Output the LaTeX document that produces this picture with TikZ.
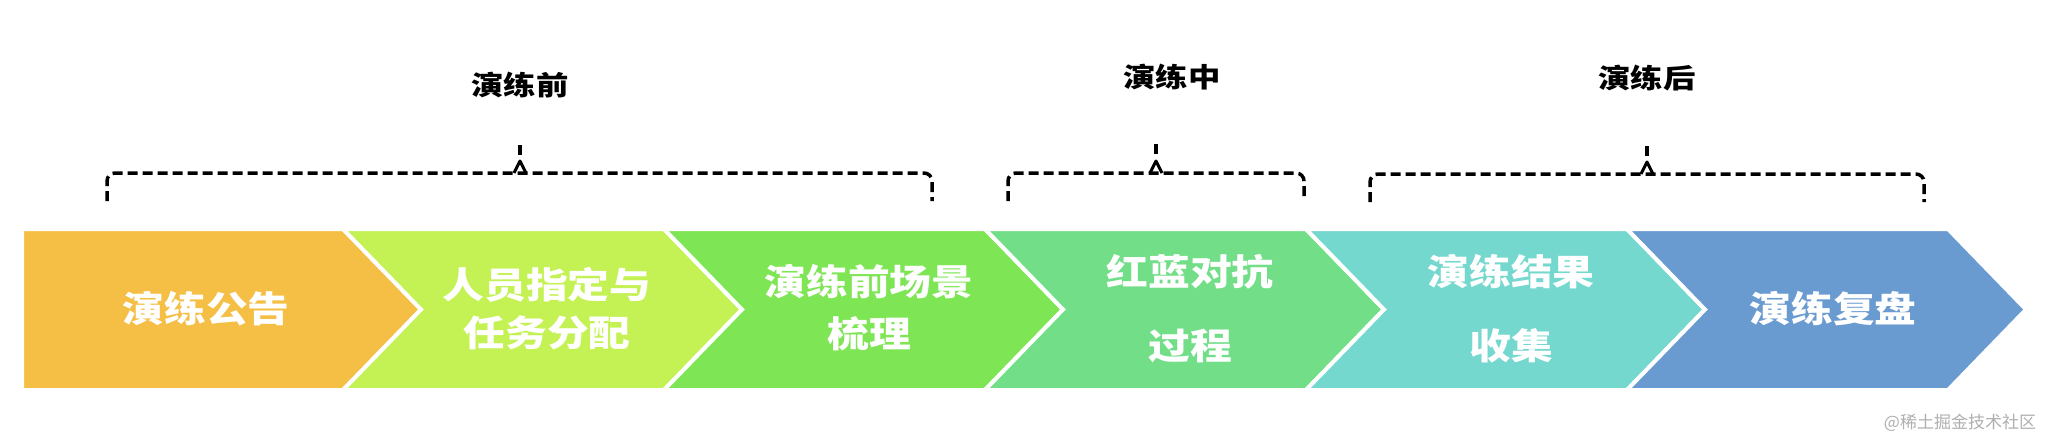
\documentclass[tikz,border=0pt]{standalone}
\usepackage{fontspec}
\newfontfamily\cjkwide[FakeStretch=1.16]{Noto Sans CJK SC}
\newfontfamily\cjklabel[FakeStretch=1.2]{Noto Sans CJK SC}
\newfontfamily\cjkplain{Noto Sans CJK SC}
\definecolor{cA}{RGB}{245,191,69}
\definecolor{cB}{RGB}{196,242,84}
\definecolor{cC}{RGB}{126,229,84}
\definecolor{cD}{RGB}{114,223,136}
\definecolor{cE}{RGB}{117,216,206}
\definecolor{cF}{RGB}{105,155,208}
\definecolor{wm}{RGB}{175,175,175}
\begin{document}
\begin{tikzpicture}[x=1pt,y=-1pt,
  chev/.style={draw=white,line width=4pt,line join=miter},
  chevtext/.style={text=white,align=center,inner sep=0pt,
    font=\fontsize{36}{48}\selectfont\cjkwide\bfseries},
  phaselabel/.style={text=black,inner sep=0pt,
    font=\fontsize{27}{32}\selectfont\cjklabel\bfseries},
  bracestyle/.style={draw=black,line width=3.5pt,dash pattern=on 10pt off 5pt,rounded corners=8pt},
  bracetip/.style={draw=black,line width=3pt,line join=round}]
\useasboundingbox (0,0) rectangle (2046,436);
\fill[white] (0,0) rectangle (2046,436);
% chevrons
\path[chev,fill=cA] (22,229) -- (343,229) -- (421,309.5) -- (343,390) -- (22,390) -- cycle;
\foreach \L/\c in {343/cB,664/cC,985/cD,1306/cE,1627/cF}{
  \path[chev,fill=\c] (\L,229) -- ({\L+321},229) -- ({\L+399},309.5) -- ({\L+321},390) -- (\L,390) -- ({\L+78},309.5) -- cycle;
}
% chevron texts
\node[chevtext] (t1) at (206,309) {演练公告};
\node[chevtext] (t2) at (547,309) {人员指定与\\任务分配};
\node[chevtext] (t3) at (869,308) {演练前场景\\[4pt]梳理};
\node[chevtext] (t4) at (1190,309) {红蓝对抗\\[26pt]过程};
\node[chevtext] (t5) at (1511,309) {演练结果\\[26pt]收集};
\node[chevtext] (t6) at (1833,309) {演练复盘};
% phase labels
\node[phaselabel] (l1) at (520,85) {演练前};
\node[phaselabel] (l2) at (1172,77) {演练中};
\node[phaselabel] (l3) at (1647,78) {演练后};
% braces
\draw[bracestyle] (107,201) -- (107,173) -- (932,173) -- (932,201);
\draw[bracestyle] (520,145) -- (520,159);
\draw[bracetip] (514,173) -- (520,161) -- (526,173);
\draw[bracestyle] (1008,201) -- (1008,173) -- (1304,173) -- (1304,201);
\draw[bracestyle] (1156,144) -- (1156,158);
\draw[bracetip] (1150,173) -- (1156,161) -- (1162,173);
\draw[bracestyle] (1370,202) -- (1370,174) -- (1924,174) -- (1924,202);
\draw[bracestyle] (1647,146) -- (1647,160);
\draw[bracetip] (1641,174) -- (1647,162) -- (1653,174);
% watermark
\node[text=wm,inner sep=0pt,font=\fontsize{17}{20}\selectfont\cjkplain] (wmark) at (1960,423) {@稀土掘金技术社区};
\end{tikzpicture}
\end{document}
